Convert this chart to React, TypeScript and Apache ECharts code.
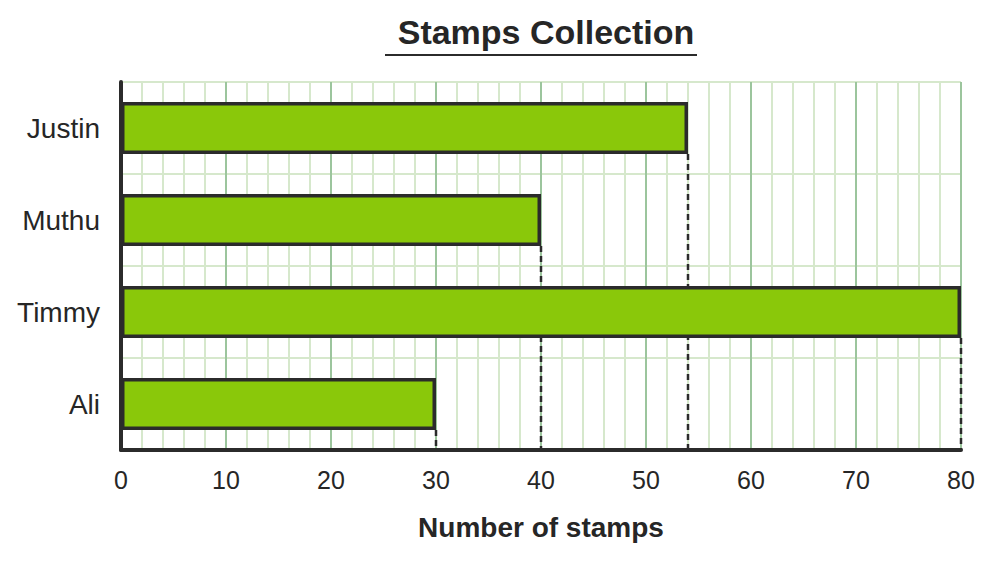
import React, { useEffect, useRef } from "react";
import * as echarts from "echarts";

const categories = ["Justin", "Muthu", "Timmy", "Ali"];
const stamps = [54, 40, 80, 30];
const xTicks = [0, 10, 20, 30, 40, 50, 60, 70, 80];

export default function App() {
  const ref = useRef<HTMLDivElement>(null);
  useEffect(() => {
    if (!ref.current) return;
    document.body.style.margin = "0";
    const chart = echarts.init(ref.current, undefined, { renderer: "svg" });
    const font = "Liberation Sans, Arial, sans-serif";
    chart.setOption({
      animation: false,
      title: {
        text: "Stamps Collection",
        left: 541,
        textAlign: "center",
        top: 10,
        textStyle: { fontFamily: font, fontSize: 34, fontWeight: "bold", color: "#262626" },
      },
      graphic: [
        {
          type: "line",
          shape: { x1: 385, y1: 55, x2: 697, y2: 55 },
          style: { stroke: "#2b2b2b", lineWidth: 2 },
        },
      ],
      grid: { left: 121, right: 32, top: 82, bottom: 113, containLabel: false },
      xAxis: {
        type: "value",
        min: xTicks[0],
        max: xTicks[xTicks.length - 1],
        interval: 10,
        name: "Number of stamps",
        nameLocation: "middle",
        nameGap: 63,
        nameTextStyle: { fontFamily: font, fontSize: 28, fontWeight: "bold", color: "#262626" },
        axisLine: { show: true, lineStyle: { color: "#2b2b2b", width: 4 } },
        axisTick: { show: false },
        axisLabel: { fontFamily: font, fontSize: 25, color: "#262626", margin: 17 },
        splitLine: { show: true, lineStyle: { color: "#9cc59d", width: 2 } },
        minorTick: { show: false, splitNumber: 5 },
        minorSplitLine: { show: true, lineStyle: { color: "#d6e8cc", width: 2 } },
      },
      yAxis: {
        type: "category",
        data: categories,
        inverse: true,
        axisLine: { show: true, lineStyle: { color: "#2b2b2b", width: 4 } },
        axisTick: { show: false },
        axisLabel: { fontFamily: font, fontSize: 28, color: "#262626", margin: 21 },
        splitLine: { show: true, lineStyle: { color: "#d6e8cc", width: 2 } },
      },
      series: [
        {
          type: "custom",
          z: 1,
          renderItem: (params: any, api: any) => {
            const v = api.value(0);
            const ci = api.value(1);
            const p = api.coord([v, ci]);
            const band = api.size([0, 1])[1];
            const cs = params.coordSys;
            const barH = band * 0.565;
            return {
              type: "line",
              shape: { x1: p[0], y1: p[1] + barH / 2, x2: p[0], y2: cs.y + cs.height },
              style: { stroke: "#2b2b2b", lineWidth: 2.5, lineDash: [6, 4] },
            };
          },
          encode: { x: 0, y: 1 },
          data: stamps.map((v, i) => [v, i]),
        },
        {
          type: "bar",
          z: 2,
          data: stamps,
          barWidth: "56.5%",
          itemStyle: { color: "#8ac80a", borderColor: "#2b2b2b", borderWidth: 3.5 },
        },
      ],
    });
    return () => chart.dispose();
  }, []);
  return <div ref={ref} style={{ width: 993, height: 563 }} />;
}
